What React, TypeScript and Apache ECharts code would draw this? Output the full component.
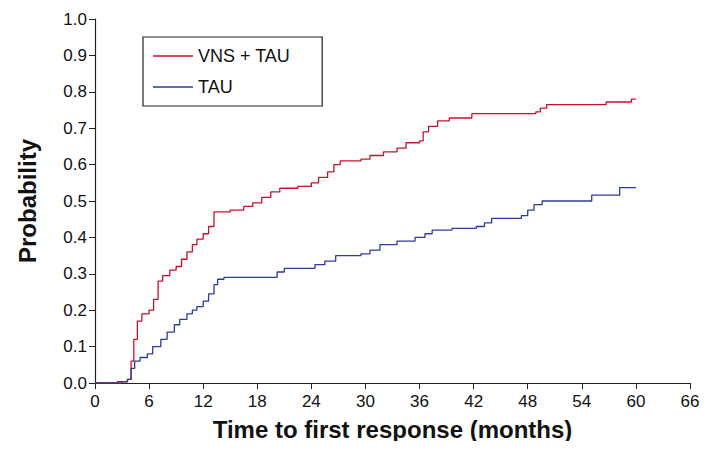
import { useEffect, useRef } from "react";
import * as echarts from "echarts";

// [months, probability] step points
const vnsTau: [number, number][] = [
  [0, 0], [3, 0.003], [3.6, 0.01], [4, 0.06], [4.3, 0.12], [4.7, 0.17], [5.2, 0.19], [6, 0.2],
  [6.5, 0.23], [7, 0.28], [7.5, 0.295], [8.3, 0.31], [9, 0.32], [9.6, 0.34], [10.2, 0.36],
  [10.8, 0.38], [11.3, 0.395], [12, 0.41], [12.6, 0.43], [13.2, 0.47], [15, 0.475], [16.5, 0.485],
  [17.5, 0.495], [18.5, 0.51], [19.5, 0.525], [20.5, 0.535], [22.5, 0.54], [24, 0.55],
  [24.8, 0.565], [25.8, 0.58], [26.5, 0.6], [27.2, 0.61], [29.5, 0.615], [30.5, 0.625],
  [32, 0.635], [33.5, 0.645], [34.5, 0.66], [36, 0.665], [36.4, 0.69], [37, 0.705], [38, 0.72],
  [39.3, 0.728], [41.8, 0.74], [48.9, 0.745], [49.4, 0.755], [50.1, 0.765], [56.7, 0.772],
  [59.5, 0.78], [60, 0.78],
];
const tau: [number, number][] = [
  [0, 0], [2.5, 0.004], [3.6, 0.01], [4, 0.04], [4.4, 0.06], [5, 0.07], [5.8, 0.08], [6.4, 0.1],
  [7.3, 0.12], [8, 0.14], [8.8, 0.16], [9.4, 0.175], [10.2, 0.19], [10.8, 0.2], [11.3, 0.21],
  [12, 0.225], [12.6, 0.245], [13.2, 0.27], [13.6, 0.285], [14.3, 0.29], [20.2, 0.305],
  [21, 0.315], [23.5, 0.315], [24.4, 0.325], [25.5, 0.335], [26.7, 0.35], [29.5, 0.355],
  [30.5, 0.365], [31.6, 0.38], [33.5, 0.39], [35.5, 0.4], [36.6, 0.41], [37.4, 0.42],
  [39.6, 0.425], [42.3, 0.43], [43.2, 0.44], [44, 0.452], [47.3, 0.46], [48, 0.475],
  [48.7, 0.49], [49.6, 0.5], [55.1, 0.516], [58.2, 0.537], [60, 0.537],
];
const seriesNames = ["VNS + TAU", "TAU"];
const seriesColors = ["#c8102e", "#2e3a9c"];

export default function App() {
  const chartRef = useRef<HTMLDivElement>(null);

  useEffect(() => {
    if (!chartRef.current) return undefined;
    const chart = echarts.init(chartRef.current, undefined, { renderer: "svg" });
    const font = "Liberation Sans, Arial, sans-serif";
    const axisLine = { show: true, lineStyle: { color: "#222", width: 1.2 } };
    chart.setOption({
      animation: false,
      textStyle: { fontFamily: font },
      grid: { left: 87, right: 11, top: 11, bottom: 58, outerBoundsMode: "none" },
      legend: {
        orient: "vertical",
        left: 135,
        top: 29,
        borderColor: "#222",
        borderWidth: 1.2,
        padding: [10, 32, 10, 10],
        itemGap: 13,
        itemWidth: 40,
        icon: "path://M0,0L40,0L40,1.5L0,1.5Z",
        itemHeight: 2,
        textStyle: { fontSize: 18, color: "#111", fontFamily: font },
        data: seriesNames,
      },
      xAxis: {
        type: "value",
        min: 0,
        max: 66,
        interval: 6,
        name: "Time to first response (months)",
        nameLocation: "middle",
        nameGap: 34,
        nameTextStyle: { fontSize: 24, fontWeight: "bold", color: "#111", fontFamily: font },
        axisLine,
        axisTick: { show: true, length: 6, lineStyle: { color: "#222" } },
        axisLabel: { fontSize: 17, color: "#111", margin: 10 },
        splitLine: { show: false },
      },
      yAxis: {
        type: "value",
        min: 0,
        max: 1,
        interval: 0.1,
        name: "Probability",
        nameLocation: "middle",
        nameGap: 56,
        nameTextStyle: { fontSize: 24, fontWeight: "bold", color: "#111", fontFamily: font },
        axisLine,
        axisTick: { show: true, length: 6, lineStyle: { color: "#222" } },
        axisLabel: { fontSize: 17, color: "#111", formatter: (v: number) => v.toFixed(1) },
        splitLine: { show: false },
      },
      series: [vnsTau, tau].map((data, i) => ({
        name: seriesNames[i],
        type: "line",
        step: "end",
        symbol: "none",
        data,
        color: seriesColors[i],
        lineStyle: { width: 1.3, color: seriesColors[i] },
      })),
    });
    return () => chart.dispose();
  }, []);

  return <div ref={chartRef} style={{ width: 693, height: 433 }} />;
}
